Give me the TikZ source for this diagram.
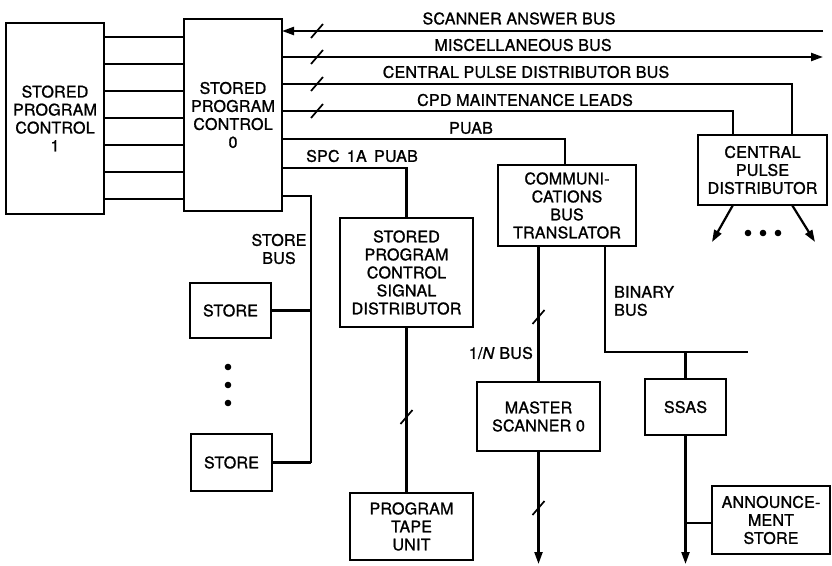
\documentclass[tikz,border=0pt]{standalone}
\usepackage{fontspec}
\setmainfont{TeX Gyre Heros}[LetterSpace=1.5,FakeBold=1.2]
\usetikzlibrary{arrows.meta}
\begin{document}
\begin{tikzpicture}[x=1pt,y=-1pt,
  every node/.style={font=\fontsize{16}{18}\selectfont},
  blk/.style={draw,line width=2.2pt,align=center,inner sep=0pt,outer sep=0pt},
  ln/.style={line width=2.2pt},
  arr/.style={line width=2.2pt,-{Triangle[length=12pt,width=8pt]}},
  slashmark/.style={line width=1.7pt},
  lbl/.style={inner sep=0pt,align=center},
  dot/.style={fill=black,draw=none}]
\useasboundingbox (0,0) rectangle (832,565);
% blocks
\node[blk,minimum width=98pt,minimum height=191pt] (spc1) at (55,118.5) {STORED\\PROGRAM\\CONTROL\\1};
\node[blk,minimum width=98pt,minimum height=192pt] (spc0) at (233,115) {STORED\\PROGRAM\\CONTROL\\0};
\node[blk,minimum width=81pt,minimum height=55pt] (store1) at (230.5,310.5) {STORE};
\node[blk,minimum width=81pt,minimum height=57pt] (store2) at (231.5,462.5) {STORE};
\node[blk,minimum width=133pt,minimum height=109pt] (spcsd) at (406.5,272.5) {STORED\\PROGRAM\\CONTROL\\SIGNAL\\DISTRIBUTOR};
\node[blk,minimum width=123pt,minimum height=67pt] (ptu) at (411.5,526.5) {PROGRAM\\TAPE\\UNIT};
\node[blk,minimum width=138pt,minimum height=81pt] (cbt) at (567,205.5) {COMMUNI-\\CATIONS\\BUS\\TRANSLATOR};
\node[blk,minimum width=129pt,minimum height=70pt] (cpd) at (762.5,170) {CENTRAL\\PULSE\\DISTRIBUTOR};
\node[blk,minimum width=123pt,minimum height=69pt] (ms) at (538.5,416.5) {MASTER\\SCANNER 0};
\node[blk,minimum width=81pt,minimum height=56pt] (ssas) at (685.5,407) {SSAS};
\node[blk,minimum width=118pt,minimum height=68pt] (ann) at (771,520) {ANNOUNCE-\\MENT\\STORE};
% SPC1 - SPC0 links
\foreach \yy in {37,64,91,118,145,172,199}
  \draw[ln] (spc1.east |- 0,\yy) -- (spc0.west |- 0,\yy);
% coordinates of bus ends / corners
\coordinate (sabE) at (823,31);
\coordinate (misE) at (823,57);
\coordinate (cpdC) at (792,84);
\coordinate (mntC) at (733,111);
\coordinate (puabC) at (565,139);
\coordinate (spcaC) at (406.5,168);
\coordinate (sbT) at (311,196);
\coordinate (bbL) at (605,352);
\coordinate (bbR) at (748,352);
\coordinate (cpdL) at (712,242);
\coordinate (cpdR) at (815,242);
\coordinate (msE) at (538.5,564);
\coordinate (ssE) at (685.5,564);
% buses from SPC0
\draw[arr] (sabE) -- (spc0.east |- sabE);
\draw[arr] (spc0.east |- misE) -- (misE);
\draw[ln] (spc0.east |- cpdC) -- (cpdC) -- (cpdC |- cpd.north);
\draw[ln] (spc0.east |- mntC) -- (mntC) -- (mntC |- cpd.north);
\draw[ln] (spc0.east |- puabC) -- (puabC) -- (puabC |- cbt.north);
\draw[ln] (spc0.east |- spcaC) -- (spcaC) -- (spcsd.north);
\draw[ln] (spc0.east |- sbT) -- (sbT) -- (sbT |- store2.east);
\draw[ln] (store1.east) -- (store1.east -| sbT);
\draw[ln] (store2.east) -- (store2.east -| sbT);
% lower links
\draw[ln] (spcsd.south) -- (spcsd.south |- ptu.north);
\draw[ln] (ms.north |- cbt.south) -- (ms.north);
\draw[arr] (ms.south) -- (msE);
\draw[ln] (bbL |- cbt.south) -- (bbL) -- (bbR);
\draw[ln] (ssas.north |- bbL) -- (ssas.north);
\draw[arr] (ssas.south) -- (ssE);
\draw[ln] (ann.west |- 0,523) -- (ssas.south |- 0,523);
\draw[arr] (cpd.south -| mntC) -- (cpdL);
\draw[arr] (cpd.south -| cpdC) -- (cpdR);
% slash marks
\foreach \p in {(317,31),(317,57),(317,84),(317,111),(406.5,417),(538.5,317),(538.5,508)}
  \draw[slashmark] \p ++(-6,7) -- ++(12,-14);
% dots
\foreach \yy in {367,385,403} \fill (228,\yy) circle (3.3pt);
\foreach \xx in {748,763,778} \fill (\xx,233) circle (3.3pt);
% labels
\node[lbl] (lsab) at (519,18.5) {SCANNER ANSWER BUS};
\node[lbl] (lmis) at (523,45) {MISCELLANEOUS BUS};
\node[lbl] (lcpd) at (526,72) {CENTRAL PULSE DISTRIBUTOR BUS};
\node[lbl] (lmnt) at (525,100) {CPD MAINTENANCE LEADS};
\node[lbl] (lpuab) at (471,128) {PUAB};
\node[lbl] (lspca) at (362,156) {SPC\, 1A\, PUAB};
\node[lbl] (lsb) at (279,249) {STORE\\BUS};
\node[lbl,anchor=east] (lnb) at (533,353) {1/\textit{N} BUS};
\node[lbl,anchor=west,align=left] (lbb) at (614,301) {BINARY\\BUS};
\end{tikzpicture}
\end{document}
